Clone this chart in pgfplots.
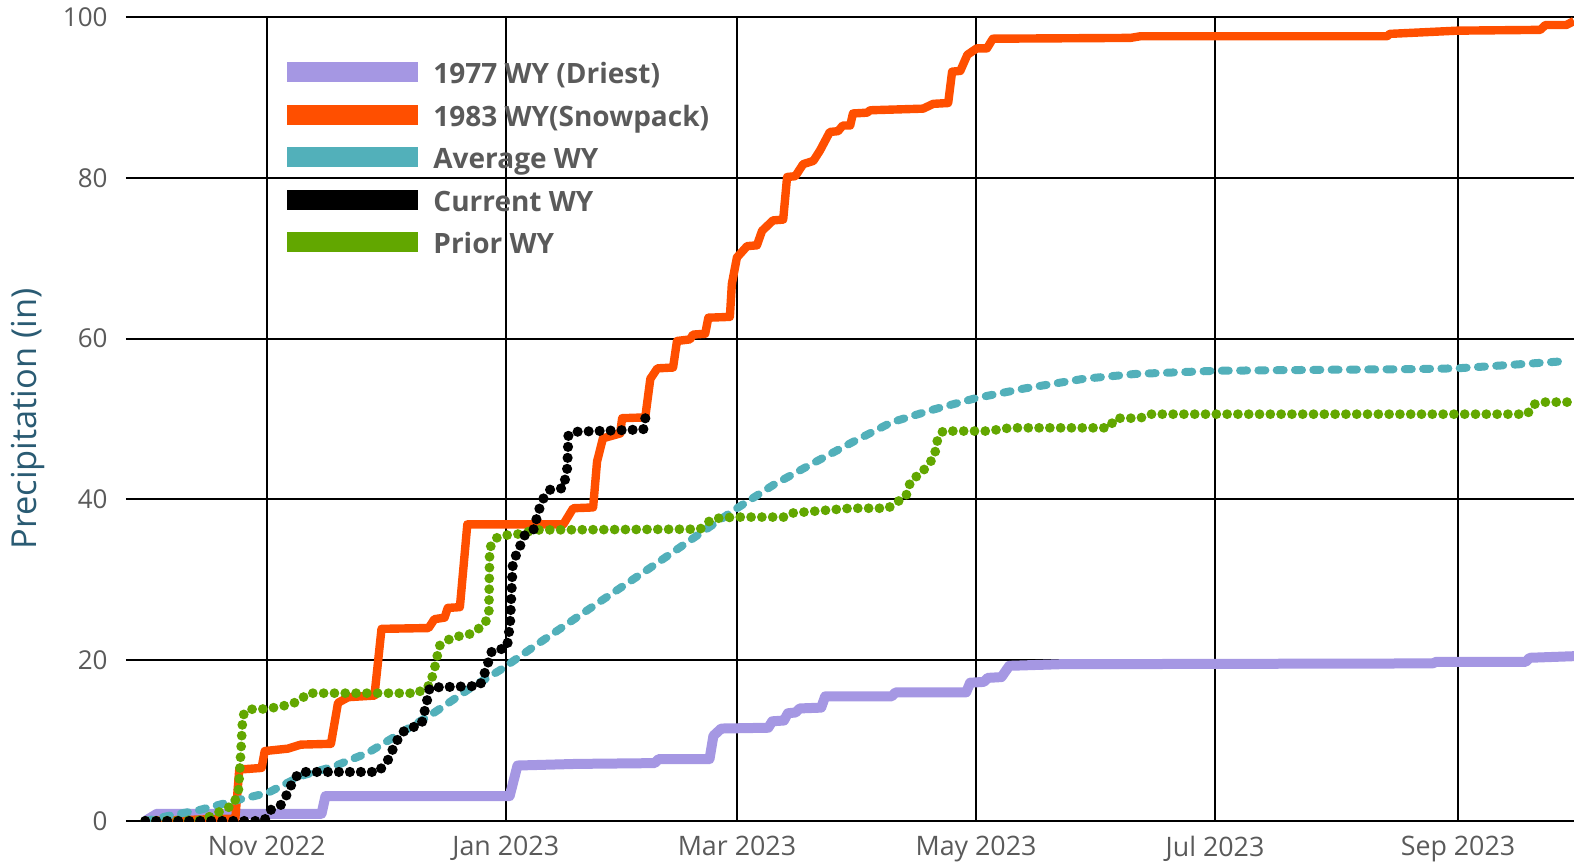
\documentclass[border=0pt]{standalone}
\usepackage{fontspec}
\setmainfont{Open Sans}
\usepackage{pgfplots}
\usepackage{pgfplotstable}
\pgfplotsset{compat=1.18}
\definecolor{cPurple}{HTML}{A597E3}
\definecolor{cOrange}{HTML}{FF4F00}
\definecolor{cTeal}{HTML}{52B0BA}
\definecolor{cGreen}{HTML}{62A700}
\definecolor{cTick}{HTML}{5A5A5A}
\definecolor{cLabel}{HTML}{2A5B73}

% x = days since 1 Oct 2022
\pgfplotstableread{
x y
0 0
3 0.9
45 0.9
46 3.1
93 3.1
95 6.9
110 7.1
130 7.2
131 7.7
144 7.7
145 10.6
147 11.5
159 11.6
160 12.4
163 12.5
164 13.4
166 13.5
167 14.0
172.5 14.1
173.5 15.5
190.5 15.5
191.5 16.0
209.5 16.0
210.5 17.2
214 17.3
215 17.8
218.5 17.9
220.5 19.3
233.4 19.5
328.5 19.6
329.5 19.8
352.3 19.8
353.3 20.3
364.6 20.5
}\driest

\pgfplotstableread{
x y
0 0
23 0.3
24 6.4
29.7 6.6
30.5 8.7
36.4 9.0
39.7 9.5
47.4 9.6
49.2 14.7
51.8 15.4
58.5 15.6
60.3 23.9
72.3 24.0
73.8 25.1
76.4 25.3
77.2 26.5
80.3 26.6
82.2 36.9
106.7 36.9
109.2 38.9
114.3 39.0
115.3 44.7
116.8 47.6
121.2 48.2
121.7 50.1
127.6 50.2
128.9 55.0
130.7 56.3
134.7 56.4
135.7 59.7
139.0 59.9
139.8 60.5
142.9 60.6
143.7 62.6
149.2 62.7
149.7 66.8
151.0 70.1
153.6 71.5
156.1 71.6
157.4 73.4
160.2 74.7
162.8 74.8
163.8 80.1
165.9 80.2
167.9 81.7
170.5 82.1
172.2 83.4
174.7 85.7
176.8 85.8
178.0 86.5
179.9 86.5
180.6 88.0
184.2 88.1
185.0 88.4
198.5 88.6
201.1 89.2
204.9 89.3
205.9 93.2
208.0 93.3
209.8 95.3
212.2 96.1
214.8 96.1
216.3 97.3
251.4 97.4
253.9 97.6
316.9 97.6
317.6 97.9
334.8 98.3
356.0 98.4
357.3 99.0
362.6 99.0
364.6 99.5
}\snowpack

\pgfplotstableread{
x y
0 0
5.6 0.6
14.1 1.4
22.6 2.5
31.3 3.5
39.7 5.6
48.2 6.8
56.9 8.5
65.4 11.0
73.8 13.5
82.6 16.4
91 18.9
99.5 21.8
116.7 27.5
129.5 31.7
142.3 36.0
151 38.9
160.3 41.8
170.8 44.6
180.8 47.2
190.5 49.6
201.3 51.2
212 52.6
224.4 53.8
239.5 55.0
252.6 55.6
273.3 56.0
296.2 56.1
321.8 56.2
334.7 56.3
347.4 56.7
362.5 57.2
}\average

\pgfplotstableread{
x y
0 0
30.3 0
32.1 1.4
34.6 2.0
36.4 3.5
37.9 5.2
39.7 6.1
59.5 6.1
62.1 7.7
63.6 9.4
65.4 11.0
67.9 11.6
70.5 12.0
71.8 14.7
72.6 16.6
85.4 16.8
86.7 18.5
88.5 21.2
92.3 21.5
93.1 24.5
93.8 32.0
94.4 32.8
95.4 33.9
96.9 35.6
99.5 36.4
100.0 38.1
101.6 40.1
103.3 41.2
106.7 41.4
107.7 43.9
108.0 48.0
109.2 48.4
127.1 48.7
128.1 51.4
}\current

\pgfplotstableread{
x y
0 0
14.1 0.1
16.7 0.6
20 1.4
22.6 2.0
23.8 3.9
24.4 8.5
24.9 13.1
26.2 13.9
29.5 13.9
32.8 14.1
37.2 14.5
39.7 15.1
41.5 15.9
69.7 15.9
71.3 16.8
72.6 16.8
73.8 18.9
75.1 21.8
78.2 22.8
83.3 23.3
86.7 24.5
87.7 26.0
87.9 33.9
89.2 35.1
91 35.5
95.4 35.7
99.5 36.2
141.6 36.3
144.7 37.6
150.3 37.8
163.3 37.8
165.1 38.3
170.0 38.5
179.9 38.9
189.6 38.9
191.4 39.6
194.0 40.2
195.4 42.4
198.2 43.3
199.3 44.1
201.3 45.2
202.3 47.7
203.6 48.5
214.8 48.5
217.9 48.7
220.7 48.9
246.0 48.9
247.5 50.1
253.9 50.1
256.0 50.6
352.7 50.6
354.2 51.8
356.8 52.1
364.6 52.1
}\prior

\begin{document}
\begin{tikzpicture}
\begin{axis}[
  name=ax,
  scale only axis,
  width=724pt, height=402pt,
  xmin=-4.9, xmax=364.6, ymin=0, ymax=100,
  axis line style={draw=none},
  xtick={31,92,151,212,273,335},
  xticklabels={Nov 2022,Jan 2023,Mar 2023,May 2023,Jul 2023,Sep 2023},
  ytick={0,20,40,60,80,100},
  major tick length=0pt,
  grid=major,
  major grid style={black, line width=1pt},
  tick label style={font=\fontsize{13}{15}\selectfont, text=cTick, inner sep=0pt},
  xticklabel style={font=\fontsize{13.4}{15}\selectfont},
  /pgf/number format/assume math mode=true,
  yticklabel shift=9pt,
  xticklabel shift=7.3pt,
  ylabel={Precipitation (in)},
  ylabel style={font=\fontsize{17.2}{19}\selectfont, text=cLabel, at={(rel axis cs:0,0.5)}, anchor=center, yshift=49pt, inner sep=0pt},
  legend style={at={(rel axis cs:0.1112,0.9444)}, anchor=north west, draw=none, fill=none, inner sep=0pt, row sep=7.45pt,
     font=\bfseries\fontsize{14}{16}\selectfont, text=cTick,
     nodes={inner sep=0pt, text height=10.5pt, text depth=3pt},
     /tikz/every odd column/.append style={column sep=7.5pt}},
  legend cell align=left,
  legend image code/.code={\path[#1] (0pt,-2.95pt) rectangle (65.5pt,7.05pt);},
  line join=round,
]
\addlegendimage{fill=cPurple, draw=none}
\addlegendentry{1977 WY (Driest)}
\addlegendimage{fill=cOrange, draw=none}
\addlegendentry{1983 WY(Snowpack)}
\addlegendimage{fill=cTeal, draw=none}
\addlegendentry{Average WY}
\addlegendimage{fill=black, draw=none}
\addlegendentry{Current WY}
\addlegendimage{fill=cGreen, draw=none}
\addlegendentry{Prior WY}

\addplot[forget plot, cPurple, line width=5pt, no markers] table {\driest};
\addplot[forget plot, cOrange, line width=4.2pt, no markers] table {\snowpack};
\addplot[forget plot, cTeal, line width=4pt, line cap=round, dash pattern=on 3.5pt off 5.65pt, no markers] table {\average};
\addplot[forget plot, cGreen, line width=4.9pt, line cap=round, dash pattern=on 0pt off 5.4pt, no markers] table {\prior};
\addplot[forget plot, black, line width=5.1pt, line cap=round, dash pattern=on 0pt off 5.5pt, no markers] table {\current};
\end{axis}
\pgfresetboundingbox
\path ([xshift=-63pt,yshift=-21pt]ax.south west) rectangle ([yshift=8.5pt]ax.north east);
\end{tikzpicture}
\end{document}
